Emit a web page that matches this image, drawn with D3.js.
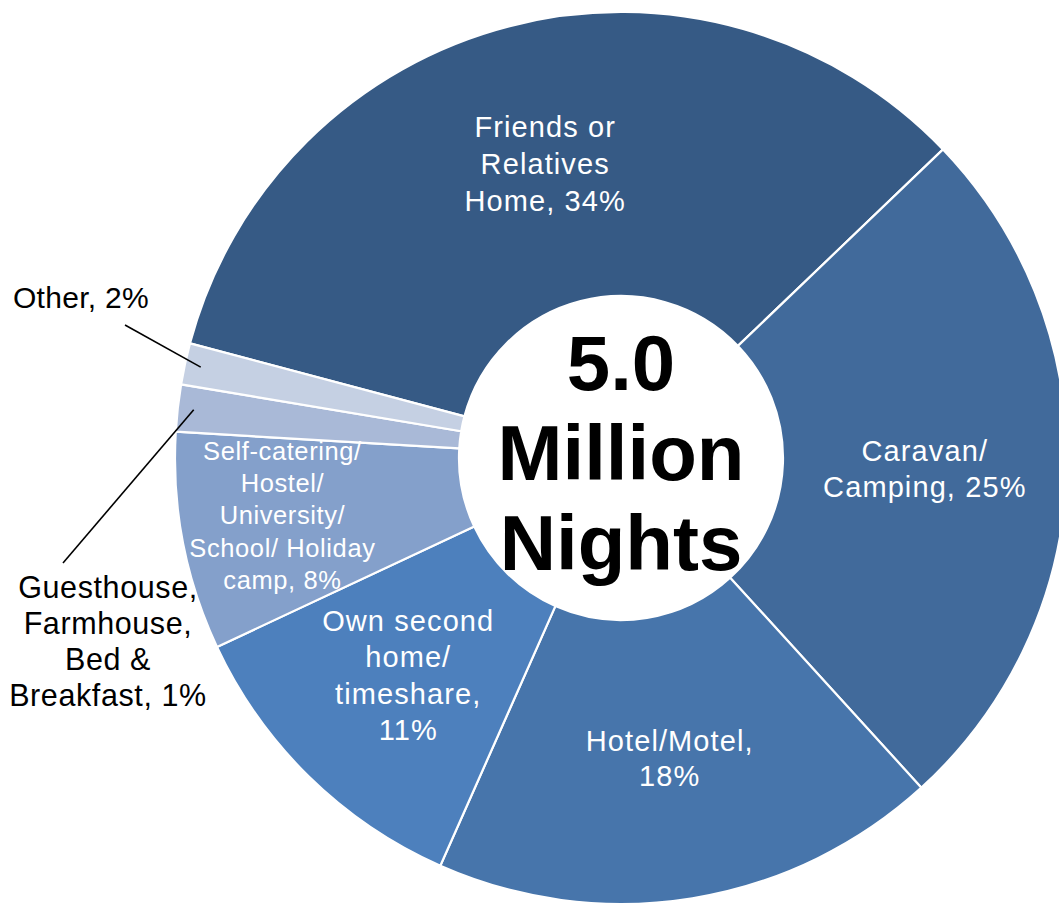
<!DOCTYPE html>
<html>
<head>
<meta charset="utf-8">
<script src="https://cdn.jsdelivr.net/npm/d3@7"></script>
<style>
  html, body { margin: 0; padding: 0; background: #ffffff; }
  svg { display: block; }
</style>
</head>
<body>
<script>
// ---- data ----
const categories = [
  "Friends or Relatives Home",
  "Caravan/ Camping",
  "Hotel/Motel",
  "Own second home/ timeshare",
  "Self-catering/ Hostel/ University/ School/ Holiday camp",
  "Guesthouse, Farmhouse, Bed & Breakfast",
  "Other"
];
const values = [33.7, 25.4, 18.4, 11.4, 7.9, 1.7, 1.5];
const labelLines = [
  ["Friends or", "Relatives", "Home, 34%"],
  ["Caravan/", "Camping, 25%"],
  ["Hotel/Motel,", "18%"],
  ["Own second", "home/", "timeshare,", "11%"],
  ["Self-catering/", "Hostel/", "University/", "School/ Holiday", "camp, 8%"],
  ["Guesthouse,", "Farmhouse,", "Bed &", "Breakfast, 1%"],
  ["Other, 2%"]
];
const colors = ["#365A85", "#416A9B", "#4775AB", "#4D80BD", "#84A0CB", "#A9B9D7", "#C5D0E3"];
const centerLines = ["5.0", "Million", "Nights"];

// ---- layout ----
const W = 1059, H = 904;
const cx = 621, cy = 458;
const rOuter = 446, rInner = 162;
const startDeg = -75.1;

const svg = d3.select("body").append("svg").attr("width", W).attr("height", H);
const g = svg.append("g").attr("transform", `translate(${cx},${cy})`);

const pie = d3.pie().sort(null).value(d => d.value)
  .startAngle(startDeg * Math.PI / 180)
  .endAngle(startDeg * Math.PI / 180 + 2 * Math.PI);

const data = categories.map((c, i) => ({ name: c, value: values[i], lines: labelLines[i], color: colors[i] }));
const arcs = pie(data);

const arc = d3.arc().innerRadius(rInner).outerRadius(rOuter);
const pointArc = d3.arc().innerRadius(430).outerRadius(430);

g.selectAll("path.slice").data(arcs).enter().append("path")
  .attr("class", "slice")
  .attr("d", arc)
  .attr("fill", d => d.data.color)
  .attr("stroke", "#ffffff")
  .attr("stroke-width", 2.2)
  .attr("stroke-linejoin", "round");

// inside labels
const inside = {
  0: { dx: 0, size: 29, lh: 37, ls: 1.1 },
  1: { dx: 0, size: 29, lh: 36, ls: 1.1 },
  2: { dx: 0, size: 29, lh: 35, ls: 1.1 },
  3: { dx: 0, size: 29, lh: 36.5, ls: 1.1 },
  4: { dx: -40, size: 25.5, lh: 32.3, ls: 0.6 }
};
arcs.forEach((a, i) => {
  if (!inside[i]) return;
  const cfg = inside[i];
  const [x, y] = arc.centroid(a);
  const n = a.data.lines.length;
  const capH = cfg.size * 0.716;
  const firstBase = y - (n - 1) * cfg.lh / 2 + capH / 2;
  const t = g.append("text")
    .attr("text-anchor", "middle")
    .attr("font-family", "'Liberation Sans', Arial, sans-serif")
    .attr("font-size", cfg.size)
    .attr("letter-spacing", cfg.ls)
    .attr("fill", "#ffffff");
  a.data.lines.forEach((ln, k) => {
    t.append("tspan").attr("x", x + cfg.dx).attr("y", firstBase + k * cfg.lh).text(ln);
  });
});

// outside labels with leader lines (positions relative to page)
const outside = {
  5: { x: 108, y: 598, lh: 36, size: 30.5, ls: 0.6, end: [63, 563] },
  6: { x: 81, y: 308, lh: 36, size: 30, ls: 0.3, end: [125, 325] }
};
arcs.forEach((a, i) => {
  if (!outside[i]) return;
  const cfg = outside[i];
  const [px, py] = pointArc.centroid(a);
  svg.append("line")
    .attr("x1", cx + px).attr("y1", cy + py)
    .attr("x2", cfg.end[0]).attr("y2", cfg.end[1])
    .attr("stroke", "#000000").attr("stroke-width", 1.6);
  const t = svg.append("text")
    .attr("text-anchor", "middle")
    .attr("font-family", "'Liberation Sans', Arial, sans-serif")
    .attr("font-size", cfg.size)
    .attr("letter-spacing", cfg.ls)
    .attr("fill", "#000000");
  a.data.lines.forEach((ln, k) => {
    t.append("tspan").attr("x", cfg.x).attr("y", cfg.y + k * cfg.lh).text(ln);
  });
});

// center text
const ct = g.append("text")
  .attr("text-anchor", "middle")
  .attr("font-family", "'Liberation Sans', Arial, sans-serif")
  .attr("font-weight", "bold")
  .attr("font-size", 78)
  .attr("fill", "#000000");
centerLines.forEach((ln, k) => {
  ct.append("tspan").attr("x", 0).attr("y", -68 + k * 90).text(ln);
});
</script>
</body>
</html>
